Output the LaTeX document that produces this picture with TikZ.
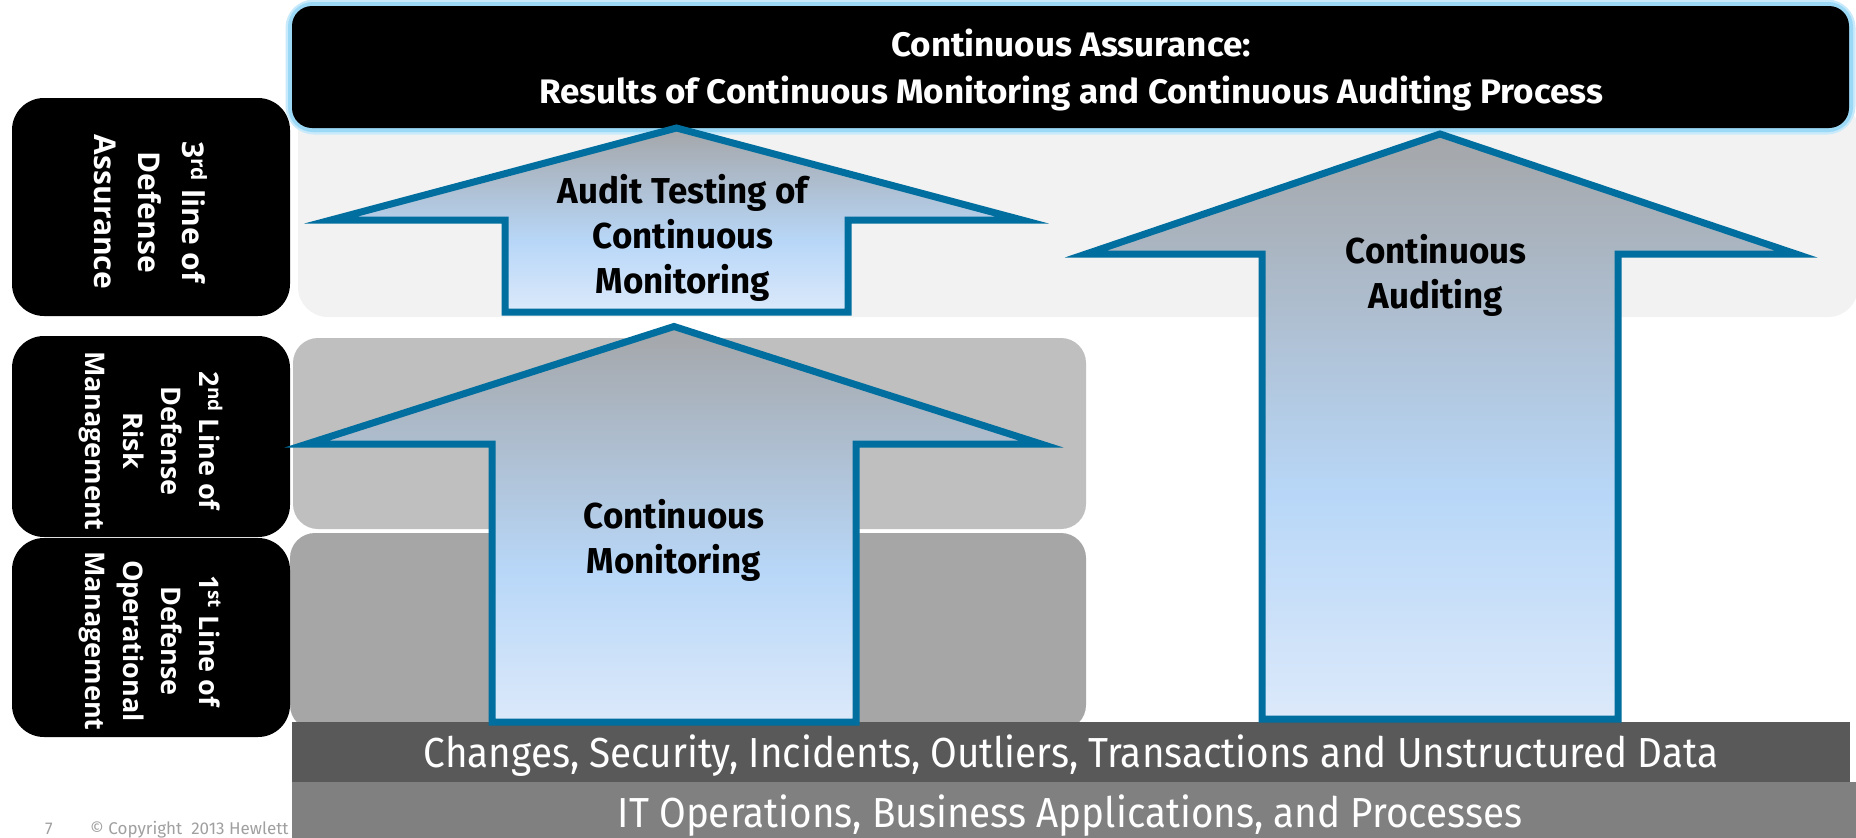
\documentclass[tikz,border=0pt]{standalone}
\usepackage{fontspec}
\setmainfont{Fira Sans}
\newfontfamily\hpfont{Fira Sans}[FakeStretch=0.97]
\newfontfamily\hptop{Fira Sans}[FakeStretch=1.03]
\newfontfamily\hpreg{Fira Sans}[FakeStretch=0.92]
\newfontfamily\lblfont{Open Sans}
\definecolor{arrowline}{HTML}{006E9E}
\definecolor{arT}{HTML}{A4A6A9}
\definecolor{arM}{HTML}{B8D7F8}
\definecolor{arB}{HTML}{DCE9FA}
\definecolor{bandthree}{HTML}{F2F2F2}
\definecolor{bandtwo}{HTML}{BFBFBF}
\definecolor{bandone}{HTML}{A6A6A6}
\definecolor{barone}{HTML}{595959}
\definecolor{bartwo}{HTML}{808080}
\definecolor{glowc}{HTML}{9CD9F6}
\definecolor{copyc}{HTML}{A0A0A0}
\pgfdeclareverticalshading{arrowshade}{100bp}{color(0bp)=(arB); color(25bp)=(arB); color(44bp)=(arM); color(75bp)=(arT); color(100bp)=(arT)}
\tikzset{
  band/.style={rounded corners=25},
  lblbox/.style={fill=black, rounded corners=32},
  lbltxt/.style={rotate=-90, anchor=base, text=white, inner sep=0pt},
  lblbig/.style={lbltxt, font=\fontsize{30}{30}\lblfont\bfseries},
  lblsmall/.style={lbltxt, font=\fontsize{27}{27}\lblfont\bfseries},
  bigarrow/.style={draw=arrowline, line width=7, line join=miter, miter limit=10, shading=arrowshade},
  arrtxt/.style={anchor=base, inner sep=0pt, font=\fontsize{36}{36}\hpfont\bfseries},
  toptxt/.style={anchor=base, inner sep=0pt, text=white, font=\fontsize{34}{34}\hptop\bfseries},
  bartxt/.style={anchor=base, inner sep=0pt, text=white, font=\fontsize{42}{42}\hpreg},
  copytxt/.style={anchor=base west, inner sep=0pt, text=copyc, font=\fontsize{17}{17}\selectfont},
}
\begin{document}
\begin{tikzpicture}[x=1pt, y=-1pt]
\path[use as bounding box] (0,0) rectangle (1856,838);
\clip (0,0) rectangle (1856,838);
\fill[white] (0,0) rectangle (1856,838);
% copyright
\node[copytxt] (pgnum) at (45,834) {7};
\node[copytxt] (copy) at (90,834) {© Copyright\ \ 2013 Hewlett};
% bands
\fill[bandthree, rounded corners=30] (298,100) rectangle (1858,317);
\fill[bandtwo, band] (293,338) rectangle (1086,529);
\fill[bandone, band] (290,533) rectangle (1086,730);
% left label boxes
\fill[lblbox] (12,98) rectangle (290,316);
\fill[lblbox] (12,336) rectangle (290,537);
\fill[lblbox] (12,538) rectangle (290,737);
\node[lblbig] (l3a) at (182,212) {3\textsuperscript{rd} line of};
\node[lblbig] (l3b) at (138,212) {Defense};
\node[lblbig] (l3c) at (94,212) {Assurance};
\node[lblsmall] (l2a) at (199,441) {2\textsuperscript{nd} Line of};
\node[lblsmall] (l2b) at (161,441) {Defense};
\node[lblsmall] (l2c) at (123,441) {Risk};
\node[lblsmall] (l2d) at (85,441) {Management};
\node[lblsmall] (l1a) at (199,641) {1\textsuperscript{st} Line of};
\node[lblsmall] (l1b) at (161,641) {Defense};
\node[lblsmall] (l1c) at (123,641) {Operational};
\node[lblsmall] (l1d) at (85,641) {Management};
% top box
\draw[glowc!55, line width=13, rounded corners=22] (292,6) rectangle (1849,128);
\draw[glowc, line width=8, rounded corners=21] (292,6) rectangle (1849,128);
\fill[black, rounded corners=20] (292,6) rectangle (1849,128);
\node[toptxt] (top1) at (1071,56) {Continuous Assurance:};
\node[toptxt] (top2) at (1071,103) {Results of Continuous Monitoring and Continuous Auditing Process};
% bottom bars
\fill[barone] (292,722) rectangle (1850,782);
\fill[bartwo] (292,782) rectangle (1856,838);
\node[bartxt] (data) at (1071,767) {Changes, Security, Incidents, Outliers, Transactions and Unstructured Data};
\node[bartxt] (ops) at (1070,827) {IT Operations, Business Applications, and Processes};
% arrows
\path[bigarrow] (676.5,128) -- (1022,220) -- (848,220) -- (848,312) -- (505,312) -- (505,220) -- (331,220) -- cycle;
\path[bigarrow] (674,326.5) -- (1041,444) -- (856,444) -- (856,722) -- (492,722) -- (492,444) -- (307,444) -- cycle;
\path[bigarrow] (1440,134) -- (1796,254) -- (1618,254) -- (1618,719) -- (1262,719) -- (1262,254) -- (1086,254) -- cycle;
\node[arrtxt] (a1) at (683,203) {Audit Testing of};
\node[arrtxt] (a2) at (683,248) {Continuous};
\node[arrtxt] (a3) at (683,293) {Monitoring};
\node[arrtxt] (b1) at (674,528) {Continuous};
\node[arrtxt] (b2) at (674,573) {Monitoring};
\node[arrtxt] (c1) at (1436,263) {Continuous};
\node[arrtxt] (c2) at (1436,308) {Auditing};
\end{tikzpicture}
\end{document}
